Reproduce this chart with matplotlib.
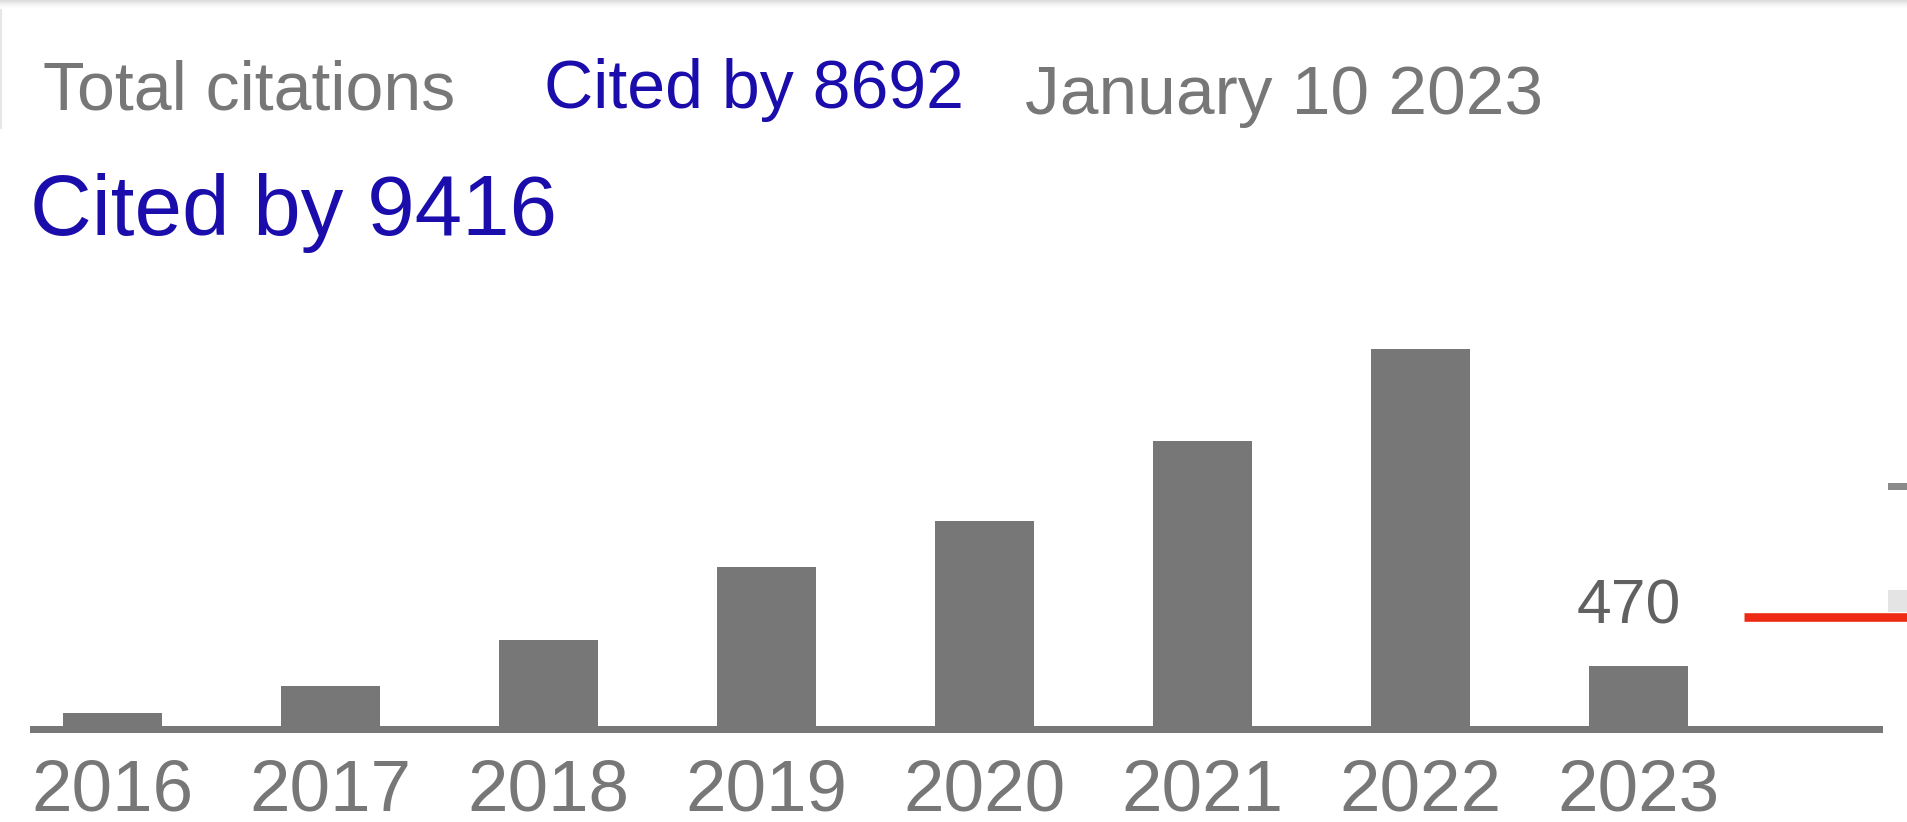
import numpy as np
import matplotlib
matplotlib.use('Agg')
import matplotlib.pyplot as plt
from matplotlib.patches import Rectangle
from matplotlib.lines import Line2D

plt.rcParams['font.family'] = ['Liberation Sans', 'DejaVu Sans']

years = ['2016', '2017', '2018', '2019', '2020', '2021', '2022', '2023']
citations = [102, 313, 673, 1245, 1605, 2232, 2953, 470]
header_tab = 'Total citations'
header_cited = 'Cited by 8692'
header_date = 'January 10 2023'
title = 'Cited by 9416'

W, H = 1907, 822
fig = plt.figure(figsize=(W / 100, H / 100), dpi=100)
fig.patch.set_facecolor('white')

def fx(px):
    return px / W

def fy(py):
    return 1 - py / H

# px per citation taken from the 2023 bar (60 px tall)
per_px = 470 / 60
ax = fig.add_axes([fx(30), fy(733), fx(1883) - fx(30), fy(300) - fy(733)])
x = np.arange(len(years))
ax.bar(x, citations, width=0.455, color='#777777', zorder=2)
ax.set_xlim((30 - 112.5) / 218, (1883 - 112.5) / 218)
ax.set_ylim(-7 * per_px, 426 * per_px)
ax.axhspan(-7 * per_px, 0, color='#777777', lw=0)
for s in ax.spines.values():
    s.set_visible(False)
ax.set_yticks([])
ax.set_xticks(x, years)
ax.tick_params(axis='x', length=0, pad=18, labelsize=52.5, labelcolor='#777777')

ax.annotate(str(citations[-1]), xy=(x[-1], citations[-1]), xytext=(-10, 43),
            textcoords='offset pixels', ha='center', va='baseline',
            fontsize=45, color='#616161', annotation_clip=False)

# header texts
fig.text(fx(43), fy(110), header_tab, fontsize=49, color='#777777', va='baseline')
fig.text(fx(544), fy(108), header_cited, fontsize=49, color='#1a0dab', va='baseline')
fig.text(fx(1025), fy(114), header_date, fontsize=50, color='#777777', va='baseline')
fig.text(fx(30), fy(235), title, fontsize=61.5, color='#1a0dab', va='baseline')

# top shadow
for i, c in enumerate(['#dcdcdc', '#e2e2e2', '#e8e8e8', '#eeeeee', '#f2f2f2',
                       '#f6f6f6', '#f9f9f9', '#fcfcfc']):
    fig.add_artist(Rectangle((0, fy(i + 1)), 1, 1 / H, transform=fig.transFigure,
                             color=c, lw=0))
fig.add_artist(Line2D([fx(1), fx(1)], [fy(10), fy(128)], transform=fig.transFigure,
                      color='#e6e6e6', lw=1.5))

# red marker line and cut-off pieces at right edge
fig.add_artist(Line2D([fx(1744), 1], [fy(616.5), fy(616.5)], transform=fig.transFigure,
                      color='#ee2a14', lw=6.2, solid_capstyle='butt'))
fig.add_artist(Rectangle((fx(1888), fy(490)), 1 - fx(1888), 7 / H,
                         transform=fig.transFigure, color='#8a8a8a', lw=0))
fig.add_artist(Rectangle((fx(1888), fy(612)), 1 - fx(1888), 22 / H,
                         transform=fig.transFigure, color='#e4e4e4', lw=0))

fig.savefig('out.png', dpi=100, facecolor='white')
